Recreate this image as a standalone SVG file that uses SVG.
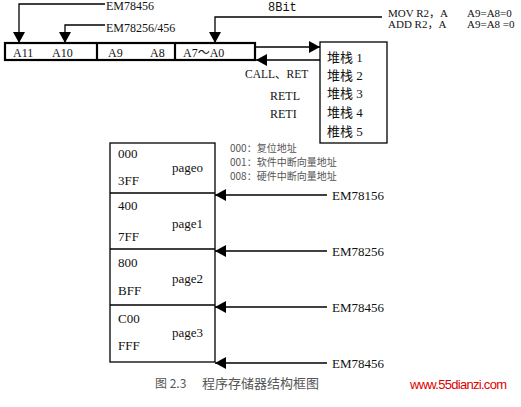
<svg xmlns="http://www.w3.org/2000/svg" width="521" height="407" viewBox="0 0 521 407">
<style>
.t{font-family:"Liberation Serif","Noto Sans CJK SC",serif;fill:#111}
.m{font-family:"Liberation Mono","Noto Sans CJK SC",monospace;fill:#111}
.c{font-family:"Noto Sans CJK SC",sans-serif;fill:#555}
.ln{fill:none;stroke:#000;stroke-width:1.3}
.box{fill:#fff;stroke:#000;stroke-width:1.3}
.bar{fill:#fff;stroke:#000;stroke-width:2.2}
</style>
<defs>
<marker id="ah" markerUnits="userSpaceOnUse" markerWidth="12" markerHeight="12" refX="11" refY="6" orient="auto">
<path d="M0,0 L11,6 L0,12 z" fill="#000"/>
</marker>
</defs>
<rect width="521" height="407" fill="#fff"/>

<g id="register">
<rect class="bar" x="5" y="43" width="250" height="17"/>
<line class="bar" x1="97" y1="43" x2="97" y2="60"/>
<line class="bar" x1="175" y1="43" x2="175" y2="60"/>
<text class="t" x="13" y="57" font-size="12">A11</text>
<text class="t" x="52" y="57" font-size="12">A10</text>
<text class="t" x="108" y="57" font-size="12">A9</text>
<text class="t" x="150" y="57" font-size="12">A8</text>
<text class="t" x="183" y="57" font-size="12">A7～A0</text>
</g>

<g id="stack">
<rect class="box" x="320" y="42" width="67" height="101"/>
<text class="t" x="327" y="62" font-size="13">堆栈 1</text>
<text class="t" x="327" y="80" font-size="13">堆栈 2</text>
<text class="t" x="327" y="98" font-size="13">堆栈 3</text>
<text class="t" x="327" y="117" font-size="13">堆栈 4</text>
<text class="t" x="327" y="136" font-size="13">椎栈 5</text>
</g>

<g id="memory">
<rect class="box" x="110" y="143" width="105" height="219"/>
<line class="ln" x1="110" y1="193" x2="215" y2="193"/>
<line class="ln" x1="110" y1="249" x2="215" y2="249"/>
<line class="ln" x1="110" y1="305" x2="215" y2="305"/>
<text class="t" x="118" y="158" font-size="13">000</text>
<text class="t" x="172" y="172" font-size="13">pageo</text>
<text class="t" x="118" y="185" font-size="13">3FF</text>
<text class="t" x="118" y="210" font-size="13">400</text>
<text class="t" x="172" y="228" font-size="13">page1</text>
<text class="t" x="118" y="241" font-size="13">7FF</text>
<text class="t" x="118" y="267" font-size="13">800</text>
<text class="t" x="172" y="283" font-size="13">page2</text>
<text class="t" x="118" y="295" font-size="13">BFF</text>
<text class="t" x="118" y="323" font-size="13">C00</text>
<text class="t" x="172" y="337" font-size="13">page3</text>
<text class="t" x="118" y="350" font-size="13">FFF</text>
</g>

<g id="connectors">
<polyline class="ln" points="105,4 19,4 19,43" marker-end="url(#ah)"/>
<polyline class="ln" points="105,25 65,25 65,43" marker-end="url(#ah)"/>
<polyline class="ln" points="382,17 215,17 215,43" marker-end="url(#ah)"/>
<line class="ln" x1="255" y1="47" x2="320" y2="47" marker-end="url(#ah)"/>
<line class="ln" x1="320" y1="60" x2="256" y2="60" marker-end="url(#ah)"/>
<line class="ln" x1="327" y1="195" x2="215" y2="195" marker-end="url(#ah)"/>
<line class="ln" x1="327" y1="251" x2="215" y2="251" marker-end="url(#ah)"/>
<line class="ln" x1="327" y1="307" x2="215" y2="307" marker-end="url(#ah)"/>
<line class="ln" x1="327" y1="363" x2="215" y2="363" marker-end="url(#ah)"/>
</g>

<g id="labels">
<text class="t" x="106" y="10" font-size="12">EM78456</text>
<text class="t" x="106" y="32" font-size="12">EM78256/456</text>
<text class="m" x="268" y="11" font-size="12">8Bit</text>
<text class="t" x="388" y="17" font-size="11">MOV R2，A</text>
<text class="t" x="467" y="17" font-size="11">A9=A8=0</text>
<text class="t" x="388" y="28" font-size="11">ADD R2，A</text>
<text class="t" x="467" y="28" font-size="11">A9=A8 =0</text>
<text class="t" x="245" y="78" font-size="11.5">CALL、RET</text>
<text class="t" x="270" y="100" font-size="12">RETL</text>
<text class="t" x="270" y="118" font-size="12">RETI</text>
<text class="c" x="230" y="152" font-size="10">000：复位地址</text>
<text class="c" x="230" y="166" font-size="10">001：软件中断向量地址</text>
<text class="c" x="230" y="180" font-size="10">008：硬件中断向量地址</text>
<text class="t" x="332" y="200" font-size="13">EM78156</text>
<text class="t" x="332" y="256" font-size="13">EM78256</text>
<text class="t" x="332" y="312" font-size="13">EM78456</text>
<text class="t" x="332" y="368" font-size="13">EM78456</text>
<text class="c" x="155" y="388" font-size="12" fill="#333">图 2.3</text>
<text class="c" x="202" y="388" font-size="13" fill="#333">程序存储器结构框图</text>
<text x="410" y="389" font-size="13" font-family="Liberation Sans, sans-serif" fill="#e00000" textLength="97">www.55dianzi.com</text>
</g>
</svg>
